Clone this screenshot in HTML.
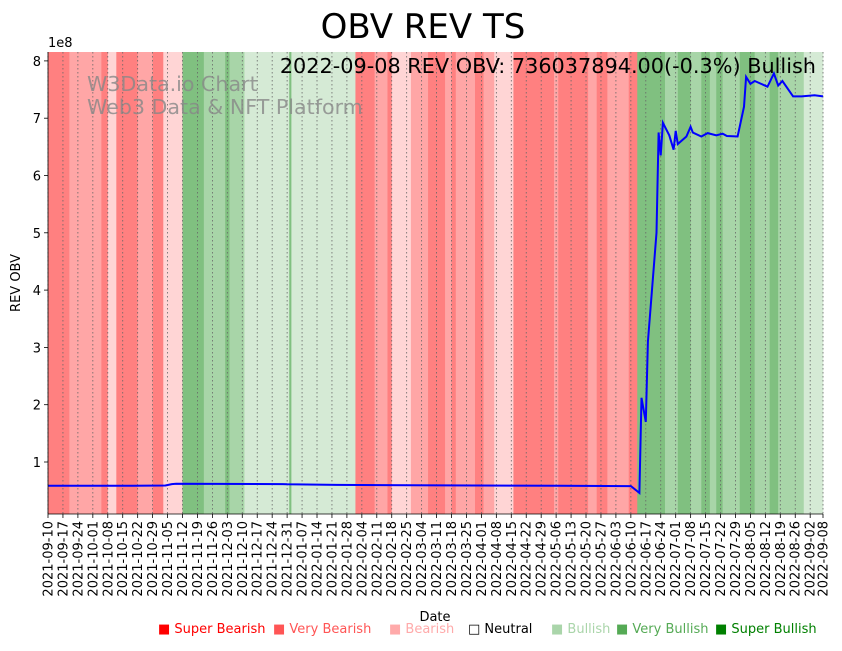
<!DOCTYPE html>
<html><head><meta charset="utf-8"><style>
body{margin:0;background:#fff;font-family:"Liberation Sans","DejaVu Sans",sans-serif}
svg text{font-family:"DejaVu Sans","Liberation Sans",sans-serif}
</style></head><body>
<svg id="chart" width="842" height="646" viewBox="0 0 842 646" xmlns="http://www.w3.org/2000/svg">
<text x="423" y="38" font-size="34" text-anchor="middle">OBV REV TS</text>
<g id="bands"></g>
<g id="grid"></g>
<text x="87" y="91" font-size="20.6" fill="#888" opacity="0.8">W3Data.io Chart</text>
<text x="87" y="114" font-size="20.6" fill="#888" opacity="0.8">Web3 Data &amp; NFT Platform</text>
<path id="line" fill="none" stroke="#0000ff" stroke-width="2"/>
<text x="816" y="73" font-size="20.8" text-anchor="end">2022-09-08 REV OBV: 736037894.00(-0.3%) Bullish</text>
<g id="axes"></g>
<text x="48" y="47" font-size="13">1e8</text>
<text transform="translate(20,283) rotate(-90)" font-size="13" text-anchor="middle">REV OBV</text>
<text x="435" y="621" font-size="13" text-anchor="middle">Date</text>
<g id="legend" font-size="13"></g>
</svg>
<script>
const bandStarts=[0,10,25,28,32,42,49,54,63,73,83,85,92,113,114,144,153,159,161,170,178,186,189,191,200,204,209,218,237,239,253,257,262,272,276,289,295,301,306,310,313,316,324,331,338,342,354];
const bandLevels=[-3,-2,-3,-1,-3,-2,-3,-1,3,2,3,2,1,3,1,-3,-2,-3,-1,-2,-3,-2,-3,-2,-3,-2,-1,-3,-2,-3,-2,-3,-2,-3,3,2,3,2,3,2,3,2,3,2,3,2,1];
const lineDays=[0,40,55,58,60,110,112,135,170,200,240,272,273,277,278,280,281,285,286,287,288,291,293,294,295,299,301,302,306,309,313,316,318,323,326,327,329,331,337,340,342,344,349,353,359,363];
const lineValues=[58.5,58.5,59,61.5,62,61.5,61,60,59.5,59,58.5,58,58,46,212,170,310,500,675,635,692,670,645,678,655,668,685,675,668,674,670,673,669,668,720,772,760,765,755,778,757,765,738,738,740,738];
const yTicks=[1,2,3,4,5,6,7,8];
const startDate=new Date(Date.UTC(2021,8,10));
const totalDays=363;
const X0=48,X1=823,Y0=52,Y1=514;
const xs=d=>X0+d*(X1-X0)/totalDays;
const ys=v=>519.3-v/100*57.3;
const colors={"-3":"#ff8080","-2":"#ffa6a6","-1":"#ffd5d5","1":"#d5ead5","2":"#a8d5a8","3":"#80c080"};
const NS="http://www.w3.org/2000/svg";
function mk(tag,attrs,parent){const e=document.createElementNS(NS,tag);for(const k in attrs)e.setAttribute(k,attrs[k]);parent.appendChild(e);return e;}
const bands=document.getElementById('bands');
bandStarts.forEach((s,i)=>{
  const e=i+1<bandStarts.length?bandStarts[i+1]:totalDays;
  const r=mk('rect',{x:xs(s),y:Y0,width:xs(e)-xs(s)+0.3,height:Y1-Y0,fill:colors[bandLevels[i]]},bands);
  
  
});
const grid=document.getElementById('grid'),axes=document.getElementById('axes');
const tickDays=[];
for(let d=0;d<totalDays;d+=7)tickDays.push(d);
tickDays.push(totalDays);
tickDays.forEach(d=>{
  const x=xs(d);
  mk('line',{x1:x,x2:x,y1:Y0,y2:Y1,stroke:'#666','stroke-width':0.8,'stroke-dasharray':'1.5,2.5'},grid);
  mk('line',{x1:x,x2:x,y1:Y1,y2:Y1+4,stroke:'#000','stroke-width':0.8},axes);
  const dt=new Date(startDate.getTime()+d*864e5);
  const lab=dt.toISOString().slice(0,10);
  const t=mk('text',{transform:`translate(${x+4.5},${Y1+7}) rotate(-90)`,'font-size':13,'text-anchor':'end'},axes);
  
  
  t.textContent=lab;
});
yTicks.forEach(v=>{
  const y=ys(v*100);
  mk('line',{x1:X0-4,x2:X0,y1:y,y2:y,stroke:'#000','stroke-width':0.8},axes);
  const t=mk('text',{x:X0-7,y:y+5,'font-size':13,'text-anchor':'end'},axes);
  
  
  t.textContent=v;
});
mk('line',{x1:X0,x2:X0,y1:Y0,y2:Y1,stroke:'#000','stroke-width':0.8},axes);
mk('line',{x1:X0,x2:X1,y1:Y1,y2:Y1,stroke:'#000','stroke-width':0.8},axes);
document.getElementById('line').setAttribute('d',lineDays.map((d,i)=>(i?'L':'M')+xs(d).toFixed(1)+','+ys(lineValues[i]).toFixed(1)).join(''));
const legNames=["Super Bearish","Very Bearish","Bearish","Neutral","Bullish","Very Bullish","Super Bullish"];
const legColors=["#ff0000","#ff5555","#ffaaaa","#000","#aad5aa","#55aa55","#008000"];
const legX=[158,273,389,468,551,616,715];
const leg=document.getElementById('legend');
legNames.forEach((n,i)=>{
  const t=mk('text',{x:legX[i],y:633,fill:legColors[i]},leg);
  
  
  t.textContent=(i==3?'□ ':'■ ')+n;
});
</script>
</body></html>
